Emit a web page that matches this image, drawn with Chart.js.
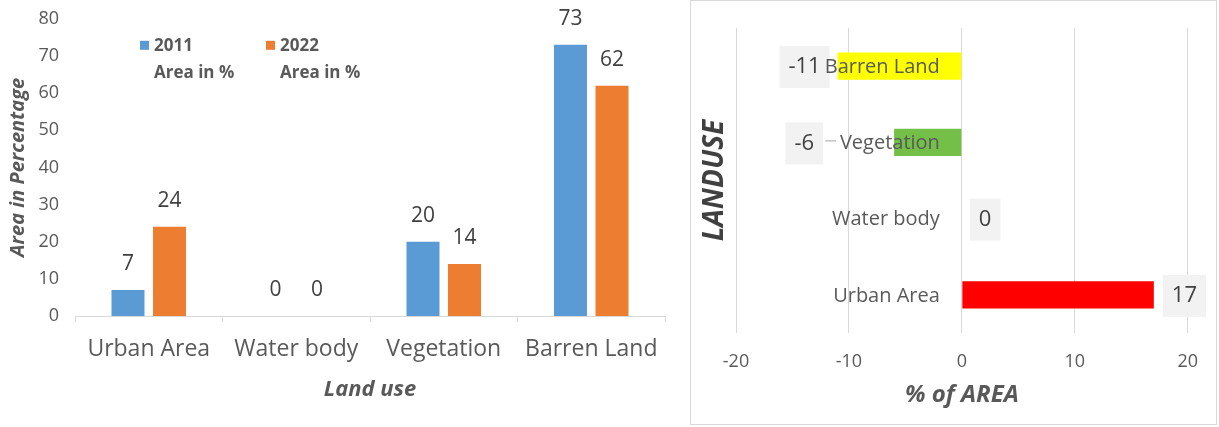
<!DOCTYPE html>
<html>
<head>
<meta charset="utf-8">
<script src="https://cdn.jsdelivr.net/npm/chart.js@4.4.1/dist/chart.umd.min.js"></script>
<style>
  html, body { margin: 0; padding: 0; background: #fff; }
  body { width: 1219px; height: 427px; position: relative; overflow: hidden; }
  #leftBox { position: absolute; left: 0; top: 0; width: 686px; height: 427px; }
  #rightBox { position: absolute; left: 690px; top: 0; width: 527px; height: 425px;
              border: 1px solid #d9d9d9; box-sizing: border-box; }
</style>
</head>
<body>
<div id="leftBox"><canvas id="landUseChart"></canvas></div>
<div id="rightBox"><canvas id="changeChart"></canvas></div>
<script>
// Land use shares, 2011 vs 2022
const landUseCategories = ['Urban Area', 'Water body', 'Vegetation', 'Barren Land'];
const area2011 = [7, 0, 20, 73];
const area2022 = [24, 0, 14, 62];
const legend2011 = ['2011', 'Area in %'];
const legend2022 = ['2022', 'Area in %'];

// Change in share between the two years
const changeCategories = ['Barren Land', 'Vegetation', 'Water body', 'Urban Area'];
const areaChange = [-11, -6, 0, 17];
const changeColors = ['#ffff00', '#74bf48', '#a5a5a5', '#ff0000'];

const FONT = '"Open Sans", "DejaVu Sans", sans-serif';
const GREY = '#595959';
const DARK = '#404040';

// value labels above each column
const columnValueLabels = {
  id: 'columnValueLabels',
  afterDatasetsDraw(chart) {
    const ctx = chart.ctx;
    ctx.save();
    ctx.font = '21px ' + FONT;
    ctx.fillStyle = DARK;
    ctx.textAlign = 'center';
    ctx.textBaseline = 'middle';
    chart.data.datasets.forEach((ds, i) => {
      chart.getDatasetMeta(i).data.forEach((bar, j) => {
        ctx.fillText(String(ds.data[j]), bar.x, bar.y - 26);
      });
    });
    ctx.restore();
  }
};

// two-line legend inside the plot area
const insideLegend = {
  id: 'insideLegend',
  afterDraw(chart, args, opts) {
    const ctx = chart.ctx;
    const area = chart.chartArea;
    ctx.save();
    ctx.font = 'bold 17px ' + FONT;
    ctx.textBaseline = 'middle';
    ctx.textAlign = 'left';
    chart.data.datasets.forEach((ds, i) => {
      const x = area.left + opts.offsets[i];
      const y = area.top + opts.top;
      ctx.fillStyle = ds.backgroundColor;
      ctx.fillRect(x, y - 5, 9, 9);
      ctx.fillStyle = GREY;
      ds.legendLines.forEach((line, k) => {
        ctx.fillText(line, x + 14, y + k * 27);
      });
    });
    ctx.restore();
  }
};

new Chart(document.getElementById('landUseChart'), {
  type: 'bar',
  data: {
    labels: landUseCategories,
    datasets: [
      { label: '2011 Area in %', legendLines: legend2011, data: area2011,
        backgroundColor: '#5b9bd5', categoryPercentage: 0.563, barPercentage: 0.795 },
      { label: '2022 Area in %', legendLines: legend2022, data: area2022,
        backgroundColor: '#ed7d31', categoryPercentage: 0.563, barPercentage: 0.795 }
    ]
  },
  options: {
    responsive: true,
    maintainAspectRatio: false,
    animation: false,
    layout: { padding: { top: 8, right: 21, left: 0, bottom: 0 } },
    plugins: {
      legend: { display: false },
      tooltip: { enabled: false },
      insideLegend: { offsets: [65, 191], top: 27 }
    },
    scales: {
      x: {
        grid: { display: true, drawOnChartArea: false, drawTicks: true, tickLength: 6,
                color: '#d9d9d9', offset: true },
        border: { display: true, color: '#d9d9d9', width: 1 },
        ticks: { color: GREY, font: { family: FONT, size: 23 }, padding: 14 },
        title: { display: true, text: 'Land use', color: GREY,
                 font: { family: FONT, size: 22, weight: 'bold', style: 'italic' },
                 padding: { top: 0, bottom: 24 } },
        afterFit(scale) { scale.height = 111; }
      },
      y: {
        min: 0, max: 80,
        ticks: { stepSize: 10, color: GREY, font: { family: FONT, size: 18 }, padding: 8 },
        grid: { display: false },
        border: { display: false },
        title: { display: true, text: 'Area in Percentage', color: GREY,
                 font: { family: FONT, size: 20, weight: 'bold', style: 'italic' },
                 padding: { top: 6, bottom: 0 } },
        afterFit(scale) { scale.width = 75; }
      }
    }
  },
  plugins: [columnValueLabels, insideLegend]
});

// category names beside the zero line and boxed value labels
const changeLabels = {
  id: 'changeLabels',
  afterDatasetsDraw(chart, args, opts) {
    const ctx = chart.ctx;
    const xs = chart.scales.x;
    const zero = xs.getPixelForValue(0);
    const meta = chart.getDatasetMeta(0);
    const ds = chart.data.datasets[0];
    ctx.save();
    ctx.textBaseline = 'middle';

    // label boxes first, so the category names can run over their edges
    ctx.font = '22px ' + FONT;
    const boxes = ds.data.map((v, j) => {
      const bar = meta.data[j];
      const text = String(v);
      const w = ctx.measureText(text).width + 18;
      const h = 42;
      const gap = opts.gaps[j];
      let left;
      if (v > 0) left = bar.x + gap;
      else if (v < 0) left = bar.x - gap - w;
      else left = zero + gap;
      ctx.fillStyle = '#f2f2f2';
      ctx.fillRect(left, bar.y - h / 2 + 1, w, h);
      return { text, left, w, y: bar.y, v, gap };
    });

    // category names
    ctx.font = '20px ' + FONT;
    ctx.fillStyle = GREY;
    ctx.textAlign = 'right';
    chart.data.labels.forEach((name, j) => {
      ctx.fillText(name, zero - 22, meta.data[j].y + 1);
    });

    // value text and leader line for the label moved away from its bar
    ctx.font = '22px ' + FONT;
    ctx.textAlign = 'center';
    boxes.forEach(b => {
      ctx.fillStyle = DARK;
      ctx.fillText(b.text, b.left + b.w / 2, b.y + 1);
      if (b.v < 0 && b.gap > 30) {
        ctx.strokeStyle = '#a6a6a6';
        ctx.lineWidth = 1;
        ctx.beginPath();
        ctx.moveTo(b.left + b.w + 2, b.y - 1.5);
        ctx.lineTo(b.left + b.w + 13, b.y - 1.5);
        ctx.stroke();
      }
    });
    ctx.restore();
  }
};

new Chart(document.getElementById('changeChart'), {
  type: 'bar',
  data: {
    labels: changeCategories,
    datasets: [{
      label: '% of AREA',
      data: areaChange,
      backgroundColor: changeColors,
      categoryPercentage: 1,
      barPercentage: 0.355
    }]
  },
  options: {
    indexAxis: 'y',
    responsive: true,
    maintainAspectRatio: false,
    animation: false,
    layout: { padding: { top: 27, right: 27, left: 0, bottom: 0 } },
    plugins: {
      legend: { display: false },
      tooltip: { enabled: false },
      changeLabels: { gaps: [8, 71, 8, 9] }
    },
    scales: {
      x: {
        min: -20, max: 20,
        ticks: { stepSize: 10, color: GREY, font: { family: FONT, size: 18 }, padding: 18 },
        grid: { color: '#d9d9d9', drawTicks: false },
        border: { display: false },
        title: { display: true, text: '% of AREA', color: GREY,
                 font: { family: FONT, size: 24, weight: 'bold', style: 'italic' },
                 padding: { top: 0, bottom: 14 } },
        afterFit(scale) { scale.height = 91; }
      },
      y: {
        ticks: { display: false },
        grid: { display: false },
        border: { display: false },
        title: { display: true, text: 'LANDUSE', color: DARK,
                 font: { family: FONT, size: 28, weight: 'bold', style: 'italic' },
                 padding: { top: 7, bottom: 0 } },
        afterFit(scale) { scale.width = 45; }
      }
    }
  },
  plugins: [changeLabels]
});
</script>
</body>
</html>
